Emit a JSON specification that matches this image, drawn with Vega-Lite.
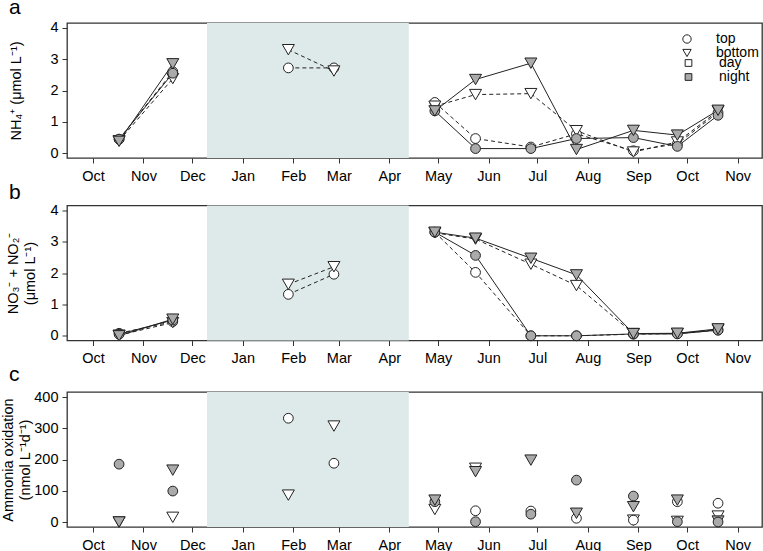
{
  "$schema": "https://vega.github.io/schema/vega-lite/v6.json",
  "padding": {"left": 0, "top": -4, "right": 1, "bottom": 0},
  "spacing": -3.5,
  "datasets": {
    "season": [{"start": "2014-12-10", "end": "2015-04-13"}],
    "nut": [
      {"date": "2014-10-17", "var": "NH4", "pos": "top", "time": "day", "seg": 1, "value": 0.45},
      {"date": "2014-11-19", "var": "NH4", "pos": "top", "time": "day", "seg": 1, "value": 2.6},
      {"date": "2015-01-29", "var": "NH4", "pos": "top", "time": "day", "seg": 2, "value": 2.72},
      {"date": "2015-02-26", "var": "NH4", "pos": "top", "time": "day", "seg": 2, "value": 2.72},
      {"date": "2015-04-29", "var": "NH4", "pos": "top", "time": "day", "seg": 3, "value": 1.62},
      {"date": "2015-05-24", "var": "NH4", "pos": "top", "time": "day", "seg": 3, "value": 0.47},
      {"date": "2015-06-27", "var": "NH4", "pos": "top", "time": "day", "seg": 3, "value": 0.2},
      {"date": "2015-07-25", "var": "NH4", "pos": "top", "time": "day", "seg": 3, "value": 0.62},
      {"date": "2015-08-29", "var": "NH4", "pos": "top", "time": "day", "seg": 3, "value": 0.08},
      {"date": "2015-09-25", "var": "NH4", "pos": "top", "time": "day", "seg": 3, "value": 0.3},
      {"date": "2015-10-20", "var": "NH4", "pos": "top", "time": "day", "seg": 3, "value": 1.3},
      {"date": "2014-10-17", "var": "NH4", "pos": "bottom", "time": "day", "seg": 1, "value": 0.4},
      {"date": "2014-11-19", "var": "NH4", "pos": "bottom", "time": "day", "seg": 1, "value": 2.38},
      {"date": "2015-01-29", "var": "NH4", "pos": "bottom", "time": "day", "seg": 2, "value": 3.3},
      {"date": "2015-02-26", "var": "NH4", "pos": "bottom", "time": "day", "seg": 2, "value": 2.62},
      {"date": "2015-04-29", "var": "NH4", "pos": "bottom", "time": "day", "seg": 3, "value": 1.5},
      {"date": "2015-05-24", "var": "NH4", "pos": "bottom", "time": "day", "seg": 3, "value": 1.87},
      {"date": "2015-06-27", "var": "NH4", "pos": "bottom", "time": "day", "seg": 3, "value": 1.9},
      {"date": "2015-07-25", "var": "NH4", "pos": "bottom", "time": "day", "seg": 3, "value": 0.72},
      {"date": "2015-08-29", "var": "NH4", "pos": "bottom", "time": "day", "seg": 3, "value": 0.04},
      {"date": "2015-09-25", "var": "NH4", "pos": "bottom", "time": "day", "seg": 3, "value": 0.36},
      {"date": "2015-10-20", "var": "NH4", "pos": "bottom", "time": "day", "seg": 3, "value": 1.35},
      {"date": "2014-10-17", "var": "NH4", "pos": "top", "time": "night", "seg": 1, "value": 0.45},
      {"date": "2014-11-19", "var": "NH4", "pos": "top", "time": "night", "seg": 1, "value": 2.55},
      {"date": "2015-04-29", "var": "NH4", "pos": "top", "time": "night", "seg": 3, "value": 1.35},
      {"date": "2015-05-24", "var": "NH4", "pos": "top", "time": "night", "seg": 3, "value": 0.15},
      {"date": "2015-06-27", "var": "NH4", "pos": "top", "time": "night", "seg": 3, "value": 0.15},
      {"date": "2015-07-25", "var": "NH4", "pos": "top", "time": "night", "seg": 3, "value": 0.47},
      {"date": "2015-08-29", "var": "NH4", "pos": "top", "time": "night", "seg": 3, "value": 0.5},
      {"date": "2015-09-25", "var": "NH4", "pos": "top", "time": "night", "seg": 3, "value": 0.22},
      {"date": "2015-10-20", "var": "NH4", "pos": "top", "time": "night", "seg": 3, "value": 1.21},
      {"date": "2014-10-17", "var": "NH4", "pos": "bottom", "time": "night", "seg": 1, "value": 0.38},
      {"date": "2014-11-19", "var": "NH4", "pos": "bottom", "time": "night", "seg": 1, "value": 2.85},
      {"date": "2015-04-29", "var": "NH4", "pos": "bottom", "time": "night", "seg": 3, "value": 1.35},
      {"date": "2015-05-24", "var": "NH4", "pos": "bottom", "time": "night", "seg": 3, "value": 2.35},
      {"date": "2015-06-27", "var": "NH4", "pos": "bottom", "time": "night", "seg": 3, "value": 2.87},
      {"date": "2015-07-25", "var": "NH4", "pos": "bottom", "time": "night", "seg": 3, "value": 0.12},
      {"date": "2015-08-29", "var": "NH4", "pos": "bottom", "time": "night", "seg": 3, "value": 0.73},
      {"date": "2015-09-25", "var": "NH4", "pos": "bottom", "time": "night", "seg": 3, "value": 0.58},
      {"date": "2015-10-20", "var": "NH4", "pos": "bottom", "time": "night", "seg": 3, "value": 1.37},

      {"date": "2014-10-17", "var": "NOx", "pos": "top", "time": "day", "seg": 1, "value": 0.08},
      {"date": "2014-11-19", "var": "NOx", "pos": "top", "time": "day", "seg": 1, "value": 0.45},
      {"date": "2015-01-29", "var": "NOx", "pos": "top", "time": "day", "seg": 2, "value": 1.32},
      {"date": "2015-02-26", "var": "NOx", "pos": "top", "time": "day", "seg": 2, "value": 1.96},
      {"date": "2015-04-29", "var": "NOx", "pos": "top", "time": "day", "seg": 3, "value": 3.3},
      {"date": "2015-05-24", "var": "NOx", "pos": "top", "time": "day", "seg": 3, "value": 2.02},
      {"date": "2015-06-27", "var": "NOx", "pos": "top", "time": "day", "seg": 3, "value": 0.0},
      {"date": "2015-07-25", "var": "NOx", "pos": "top", "time": "day", "seg": 3, "value": 0.0},
      {"date": "2015-08-29", "var": "NOx", "pos": "top", "time": "day", "seg": 3, "value": 0.05},
      {"date": "2015-09-25", "var": "NOx", "pos": "top", "time": "day", "seg": 3, "value": 0.07},
      {"date": "2015-10-20", "var": "NOx", "pos": "top", "time": "day", "seg": 3, "value": 0.18},
      {"date": "2014-10-17", "var": "NOx", "pos": "bottom", "time": "day", "seg": 1, "value": 0.02},
      {"date": "2014-11-19", "var": "NOx", "pos": "bottom", "time": "day", "seg": 1, "value": 0.42},
      {"date": "2015-01-29", "var": "NOx", "pos": "bottom", "time": "day", "seg": 2, "value": 1.64},
      {"date": "2015-02-26", "var": "NOx", "pos": "bottom", "time": "day", "seg": 2, "value": 2.2},
      {"date": "2015-04-29", "var": "NOx", "pos": "bottom", "time": "day", "seg": 3, "value": 3.28},
      {"date": "2015-05-24", "var": "NOx", "pos": "bottom", "time": "day", "seg": 3, "value": 3.08},
      {"date": "2015-06-27", "var": "NOx", "pos": "bottom", "time": "day", "seg": 3, "value": 2.28},
      {"date": "2015-07-25", "var": "NOx", "pos": "bottom", "time": "day", "seg": 3, "value": 1.6},
      {"date": "2015-08-29", "var": "NOx", "pos": "bottom", "time": "day", "seg": 3, "value": 0.07},
      {"date": "2015-09-25", "var": "NOx", "pos": "bottom", "time": "day", "seg": 3, "value": 0.07},
      {"date": "2015-10-20", "var": "NOx", "pos": "bottom", "time": "day", "seg": 3, "value": 0.2},
      {"date": "2014-10-17", "var": "NOx", "pos": "top", "time": "night", "seg": 1, "value": 0.05},
      {"date": "2014-11-19", "var": "NOx", "pos": "top", "time": "night", "seg": 1, "value": 0.5},
      {"date": "2015-04-29", "var": "NOx", "pos": "top", "time": "night", "seg": 3, "value": 3.3},
      {"date": "2015-05-24", "var": "NOx", "pos": "top", "time": "night", "seg": 3, "value": 2.56},
      {"date": "2015-06-27", "var": "NOx", "pos": "top", "time": "night", "seg": 3, "value": 0.0},
      {"date": "2015-07-25", "var": "NOx", "pos": "top", "time": "night", "seg": 3, "value": 0.0},
      {"date": "2015-08-29", "var": "NOx", "pos": "top", "time": "night", "seg": 3, "value": 0.06},
      {"date": "2015-09-25", "var": "NOx", "pos": "top", "time": "night", "seg": 3, "value": 0.06},
      {"date": "2015-10-20", "var": "NOx", "pos": "top", "time": "night", "seg": 3, "value": 0.18},
      {"date": "2014-10-17", "var": "NOx", "pos": "bottom", "time": "night", "seg": 1, "value": 0.0},
      {"date": "2014-11-19", "var": "NOx", "pos": "bottom", "time": "night", "seg": 1, "value": 0.53},
      {"date": "2015-04-29", "var": "NOx", "pos": "bottom", "time": "night", "seg": 3, "value": 3.3},
      {"date": "2015-05-24", "var": "NOx", "pos": "bottom", "time": "night", "seg": 3, "value": 3.11},
      {"date": "2015-06-27", "var": "NOx", "pos": "bottom", "time": "night", "seg": 3, "value": 2.47},
      {"date": "2015-07-25", "var": "NOx", "pos": "bottom", "time": "night", "seg": 3, "value": 1.94},
      {"date": "2015-08-29", "var": "NOx", "pos": "bottom", "time": "night", "seg": 3, "value": 0.07},
      {"date": "2015-09-25", "var": "NOx", "pos": "bottom", "time": "night", "seg": 3, "value": 0.08},
      {"date": "2015-10-20", "var": "NOx", "pos": "bottom", "time": "night", "seg": 3, "value": 0.22}
    ],
    "ao": [
      {"date": "2014-10-17", "pos": "bottom", "time": "day", "value": 0},
      {"date": "2014-11-19", "pos": "bottom", "time": "day", "value": 15},
      {"date": "2015-01-29", "pos": "top", "time": "day", "value": 332},
      {"date": "2015-01-29", "pos": "bottom", "time": "day", "value": 86},
      {"date": "2015-02-26", "pos": "bottom", "time": "day", "value": 307},
      {"date": "2015-02-26", "pos": "top", "time": "day", "value": 188},
      {"date": "2015-04-29", "pos": "bottom", "time": "day", "value": 40},
      {"date": "2015-05-24", "pos": "bottom", "time": "day", "value": 172},
      {"date": "2015-05-24", "pos": "top", "time": "day", "value": 36},
      {"date": "2015-06-27", "pos": "top", "time": "day", "value": 35},
      {"date": "2015-07-25", "pos": "top", "time": "day", "value": 12},
      {"date": "2015-08-29", "pos": "bottom", "time": "day", "value": 6},
      {"date": "2015-08-29", "pos": "top", "time": "day", "value": 6},
      {"date": "2015-09-25", "pos": "top", "time": "day", "value": 65},
      {"date": "2015-09-25", "pos": "bottom", "time": "day", "value": 2},
      {"date": "2015-10-20", "pos": "top", "time": "day", "value": 60},
      {"date": "2015-10-20", "pos": "bottom", "time": "day", "value": 19},
      {"date": "2014-10-17", "pos": "top", "time": "night", "value": 185},
      {"date": "2014-10-17", "pos": "bottom", "time": "night", "value": 0},
      {"date": "2014-11-19", "pos": "bottom", "time": "night", "value": 166},
      {"date": "2014-11-19", "pos": "top", "time": "night", "value": 99},
      {"date": "2015-04-29", "pos": "top", "time": "night", "value": 65},
      {"date": "2015-04-29", "pos": "bottom", "time": "night", "value": 70},
      {"date": "2015-05-24", "pos": "bottom", "time": "night", "value": 161},
      {"date": "2015-05-24", "pos": "top", "time": "night", "value": 1},
      {"date": "2015-06-27", "pos": "bottom", "time": "night", "value": 198},
      {"date": "2015-06-27", "pos": "top", "time": "night", "value": 25},
      {"date": "2015-07-25", "pos": "top", "time": "night", "value": 134},
      {"date": "2015-07-25", "pos": "bottom", "time": "night", "value": 28},
      {"date": "2015-08-29", "pos": "top", "time": "night", "value": 83},
      {"date": "2015-08-29", "pos": "bottom", "time": "night", "value": 49},
      {"date": "2015-09-25", "pos": "bottom", "time": "night", "value": 70},
      {"date": "2015-09-25", "pos": "top", "time": "night", "value": 1},
      {"date": "2015-10-20", "pos": "bottom", "time": "night", "value": 3},
      {"date": "2015-10-20", "pos": "top", "time": "night", "value": 0}
    ]
  },
  "config": {
    "font": "Liberation Sans",
    "view": {"stroke": "#333", "strokeWidth": 1.3},
    "axis": {
      "labelFont": "Liberation Sans", "labelFontSize": 14.5, "labelColor": "#000",
      "titleFont": "Liberation Sans", "titleFontSize": 14.5, "titleFontWeight": "normal", "titleColor": "#000",
      "tickColor": "#333", "tickSize": 5, "domain": false, "grid": false,
      "labelFlush": false, "labelOverlap": false, "titleLineHeight": 17
    },
    "axisX": {"labelPadding": 6},
    "axisY": {"labelPadding": 4},
    "title": {"font": "Liberation Sans", "fontSize": 21, "fontWeight": "normal", "anchor": "start", "frame": "group", "baseline": "alphabetic", "color": "#000"}
  },
  "resolve": {
    "scale": {"x": "independent", "y": "independent", "shape": "independent", "fill": "independent"},
    "legend": {"shape": "independent", "fill": "independent"}
  },
  "vconcat": [
    {
      "width": 695, "height": 135,
      "title": {"text": "a", "dx": -58, "offset": 2},
      "layer": [
        {
          "data": {"name": "season"},
          "mark": {"type": "rect", "color": "#deeae9"},
          "encoding": {
            "x": {"field": "start", "type": "temporal",
              "scale": {"type": "utc", "domain": [{"year": 2014, "month": 9, "date": 15, "utc": true}, {"year": 2015, "month": 11, "date": 16, "utc": true}]},
              "axis": {"title": null, "format": "%b", "values": [
                {"year": 2014, "month": 10, "date": 1, "utc": true}, {"year": 2014, "month": 11, "date": 1, "utc": true}, {"year": 2014, "month": 12, "date": 1, "utc": true},
                {"year": 2015, "month": 1, "date": 1, "utc": true}, {"year": 2015, "month": 2, "date": 1, "utc": true}, {"year": 2015, "month": 3, "date": 1, "utc": true},
                {"year": 2015, "month": 4, "date": 1, "utc": true}, {"year": 2015, "month": 5, "date": 1, "utc": true}, {"year": 2015, "month": 6, "date": 1, "utc": true},
                {"year": 2015, "month": 7, "date": 1, "utc": true}, {"year": 2015, "month": 8, "date": 1, "utc": true}, {"year": 2015, "month": 9, "date": 1, "utc": true},
                {"year": 2015, "month": 10, "date": 1, "utc": true}, {"year": 2015, "month": 11, "date": 1, "utc": true}]}},
            "x2": {"field": "end"}
          }
        },
        {
          "data": {"name": "nut"},
          "transform": [{"filter": "datum.var == 'NH4' && datum.time == 'day'"}],
          "mark": {"type": "line", "color": "#222", "strokeWidth": 1, "strokeDash": [4, 3]},
          "encoding": {
            "x": {"field": "date", "type": "temporal"},
            "y": {"field": "value", "type": "quantitative",
              "scale": {"domain": [-0.15, 4.15], "nice": false, "zero": false},
              "axis": {"title": "NH₄⁺ (μmol L⁻¹)", "values": [0, 1, 2, 3, 4], "titlePadding": 26}},
            "detail": [{"field": "pos"}, {"field": "seg"}]
          }
        },
        {
          "data": {"name": "nut"},
          "transform": [{"filter": "datum.var == 'NH4' && datum.time == 'night'"}],
          "mark": {"type": "line", "color": "#222", "strokeWidth": 1},
          "encoding": {
            "x": {"field": "date", "type": "temporal"},
            "y": {"field": "value", "type": "quantitative",
              "scale": {"domain": [-0.15, 4.15], "nice": false, "zero": false},
              "axis": {"title": "NH₄⁺ (μmol L⁻¹)", "values": [0, 1, 2, 3, 4], "titlePadding": 26}},
            "detail": [{"field": "pos"}, {"field": "seg"}]
          }
        },
        {
          "data": {"name": "nut"},
          "transform": [{"filter": "datum.var == 'NH4'"}],
          "mark": {"type": "point", "filled": true, "stroke": "#222", "strokeWidth": 1, "opacity": 1},
          "encoding": {
            "x": {"field": "date", "type": "temporal"},
            "y": {"field": "value", "type": "quantitative",
              "scale": {"domain": [-0.15, 4.15], "nice": false, "zero": false},
              "axis": {"title": "NH₄⁺ (μmol L⁻¹)", "values": [0, 1, 2, 3, 4], "titlePadding": 26}},
            "shape": {"field": "pos", "type": "nominal", "scale": {"domain": ["top", "bottom"], "range": ["circle", "triangle-down"]},
              "legend": {"orient": "none", "legendX": 613, "legendY": 9, "title": null, "padding": 0, "labelFontSize": 14, "labelFont": "Liberation Sans", "symbolFillColor": "white", "symbolStrokeColor": "#222", "symbolStrokeWidth": 1, "symbolSize": 70, "rowPadding": 0, "labelOffset": 22, "direction": "vertical"}},
            "fill": {"field": "time", "type": "nominal", "scale": {"domain": ["day", "night"], "range": ["#ffffff", "#aaaaaa"]},
              "legend": {"orient": "none", "legendX": 614.5, "legendY": 33, "title": null, "padding": 0, "labelFontSize": 14, "labelFont": "Liberation Sans", "symbolType": "square", "symbolStrokeColor": "#222", "symbolStrokeWidth": 1, "symbolSize": 45, "rowPadding": 0, "labelOffset": 23.5, "direction": "vertical"}},
            "size": {"condition": {"test": "datum.pos == 'bottom'", "value": 144}, "value": 95}
          }
        }
      ]
    },
    {
      "width": 695, "height": 135,
      "title": {"text": "b", "dx": -58, "offset": -0.9},
      "layer": [
        {
          "data": {"name": "season"},
          "mark": {"type": "rect", "color": "#deeae9"},
          "encoding": {
            "x": {"field": "start", "type": "temporal",
              "scale": {"type": "utc", "domain": [{"year": 2014, "month": 9, "date": 15, "utc": true}, {"year": 2015, "month": 11, "date": 16, "utc": true}]},
              "axis": {"title": null, "format": "%b", "values": [
                {"year": 2014, "month": 10, "date": 1, "utc": true}, {"year": 2014, "month": 11, "date": 1, "utc": true}, {"year": 2014, "month": 12, "date": 1, "utc": true},
                {"year": 2015, "month": 1, "date": 1, "utc": true}, {"year": 2015, "month": 2, "date": 1, "utc": true}, {"year": 2015, "month": 3, "date": 1, "utc": true},
                {"year": 2015, "month": 4, "date": 1, "utc": true}, {"year": 2015, "month": 5, "date": 1, "utc": true}, {"year": 2015, "month": 6, "date": 1, "utc": true},
                {"year": 2015, "month": 7, "date": 1, "utc": true}, {"year": 2015, "month": 8, "date": 1, "utc": true}, {"year": 2015, "month": 9, "date": 1, "utc": true},
                {"year": 2015, "month": 10, "date": 1, "utc": true}, {"year": 2015, "month": 11, "date": 1, "utc": true}]}},
            "x2": {"field": "end"}
          }
        },
        {
          "data": {"name": "nut"},
          "transform": [{"filter": "datum.var == 'NOx' && datum.time == 'day'"}],
          "mark": {"type": "line", "color": "#222", "strokeWidth": 1, "strokeDash": [4, 3]},
          "encoding": {
            "x": {"field": "date", "type": "temporal"},
            "y": {"field": "value", "type": "quantitative",
              "scale": {"domain": [-0.15, 4.15], "nice": false, "zero": false},
              "axis": {"title": ["NO₃⁻ + NO₂⁻", "(μmol L⁻¹)"], "values": [0, 1, 2, 3, 4], "titlePadding": 12}},
            "detail": [{"field": "pos"}, {"field": "seg"}]
          }
        },
        {
          "data": {"name": "nut"},
          "transform": [{"filter": "datum.var == 'NOx' && datum.time == 'night'"}],
          "mark": {"type": "line", "color": "#222", "strokeWidth": 1},
          "encoding": {
            "x": {"field": "date", "type": "temporal"},
            "y": {"field": "value", "type": "quantitative",
              "scale": {"domain": [-0.15, 4.15], "nice": false, "zero": false},
              "axis": {"title": ["NO₃⁻ + NO₂⁻", "(μmol L⁻¹)"], "values": [0, 1, 2, 3, 4], "titlePadding": 12}},
            "detail": [{"field": "pos"}, {"field": "seg"}]
          }
        },
        {
          "data": {"name": "nut"},
          "transform": [{"filter": "datum.var == 'NOx'"}],
          "mark": {"type": "point", "filled": true, "stroke": "#222", "strokeWidth": 1, "opacity": 1},
          "encoding": {
            "x": {"field": "date", "type": "temporal"},
            "y": {"field": "value", "type": "quantitative",
              "scale": {"domain": [-0.15, 4.15], "nice": false, "zero": false},
              "axis": {"title": ["NO₃⁻ + NO₂⁻", "(μmol L⁻¹)"], "values": [0, 1, 2, 3, 4], "titlePadding": 12}},
            "shape": {"field": "pos", "type": "nominal", "scale": {"domain": ["top", "bottom"], "range": ["circle", "triangle-down"]}, "legend": null},
            "fill": {"field": "time", "type": "nominal", "scale": {"domain": ["day", "night"], "range": ["#ffffff", "#aaaaaa"]}, "legend": null},
            "size": {"condition": {"test": "datum.pos == 'bottom'", "value": 144}, "value": 95}
          }
        },
        {
          "mark": {"type": "text", "fontSize": 14.5, "font": "Liberation Sans", "color": "#000"},
          "encoding": {
            "x": {"datum": {"year": 2014, "month": 10, "date": 1, "utc": true}, "type": "temporal"},
            "y": {"datum": 3.55, "type": "quantitative",
              "scale": {"domain": [-0.15, 4.15], "nice": false, "zero": false},
              "axis": {"title": ["NO₃⁻ + NO₂⁻", "(μmol L⁻¹)"], "values": [0, 1, 2, 3, 4], "titlePadding": 12}},
            "text": {"value": "B"}
          }
        }
      ]
    },
    {
      "width": 695, "height": 135,
      "title": {"text": "c", "dx": -58, "offset": 4},
      "layer": [
        {
          "data": {"name": "season"},
          "mark": {"type": "rect", "color": "#deeae9"},
          "encoding": {
            "x": {"field": "start", "type": "temporal",
              "scale": {"type": "utc", "domain": [{"year": 2014, "month": 9, "date": 15, "utc": true}, {"year": 2015, "month": 11, "date": 16, "utc": true}]},
              "axis": {"title": null, "format": "%b", "values": [
                {"year": 2014, "month": 10, "date": 1, "utc": true}, {"year": 2014, "month": 11, "date": 1, "utc": true}, {"year": 2014, "month": 12, "date": 1, "utc": true},
                {"year": 2015, "month": 1, "date": 1, "utc": true}, {"year": 2015, "month": 2, "date": 1, "utc": true}, {"year": 2015, "month": 3, "date": 1, "utc": true},
                {"year": 2015, "month": 4, "date": 1, "utc": true}, {"year": 2015, "month": 5, "date": 1, "utc": true}, {"year": 2015, "month": 6, "date": 1, "utc": true},
                {"year": 2015, "month": 7, "date": 1, "utc": true}, {"year": 2015, "month": 8, "date": 1, "utc": true}, {"year": 2015, "month": 9, "date": 1, "utc": true},
                {"year": 2015, "month": 10, "date": 1, "utc": true}, {"year": 2015, "month": 11, "date": 1, "utc": true}]}},
            "x2": {"field": "end"}
          }
        },
        {
          "data": {"name": "ao"},
          "mark": {"type": "point", "filled": true, "stroke": "#222", "strokeWidth": 1, "opacity": 1},
          "encoding": {
            "x": {"field": "date", "type": "temporal"},
            "y": {"field": "value", "type": "quantitative",
              "scale": {"domain": [-16, 416], "nice": false, "zero": false},
              "axis": {"title": ["Ammonia oxidation", "(nmol L⁻¹d⁻¹)"], "values": [0, 100, 200, 300, 400], "titlePadding": 1}},
            "shape": {"field": "pos", "type": "nominal", "scale": {"domain": ["top", "bottom"], "range": ["circle", "triangle-down"]}, "legend": null},
            "fill": {"field": "time", "type": "nominal", "scale": {"domain": ["day", "night"], "range": ["#ffffff", "#aaaaaa"]}, "legend": null},
            "size": {"condition": {"test": "datum.pos == 'bottom'", "value": 144}, "value": 95}
          }
        },
        {
          "mark": {"type": "text", "fontSize": 14.5, "font": "Liberation Sans", "color": "#000"},
          "encoding": {
            "x": {"datum": {"year": 2014, "month": 10, "date": 1, "utc": true}, "type": "temporal"},
            "y": {"datum": 353, "type": "quantitative",
              "scale": {"domain": [-16, 416], "nice": false, "zero": false},
              "axis": {"title": ["Ammonia oxidation", "(nmol L⁻¹d⁻¹)"], "values": [0, 100, 200, 300, 400], "titlePadding": 1}},
            "text": {"value": "C"}
          }
        }
      ]
    }
  ]
}
